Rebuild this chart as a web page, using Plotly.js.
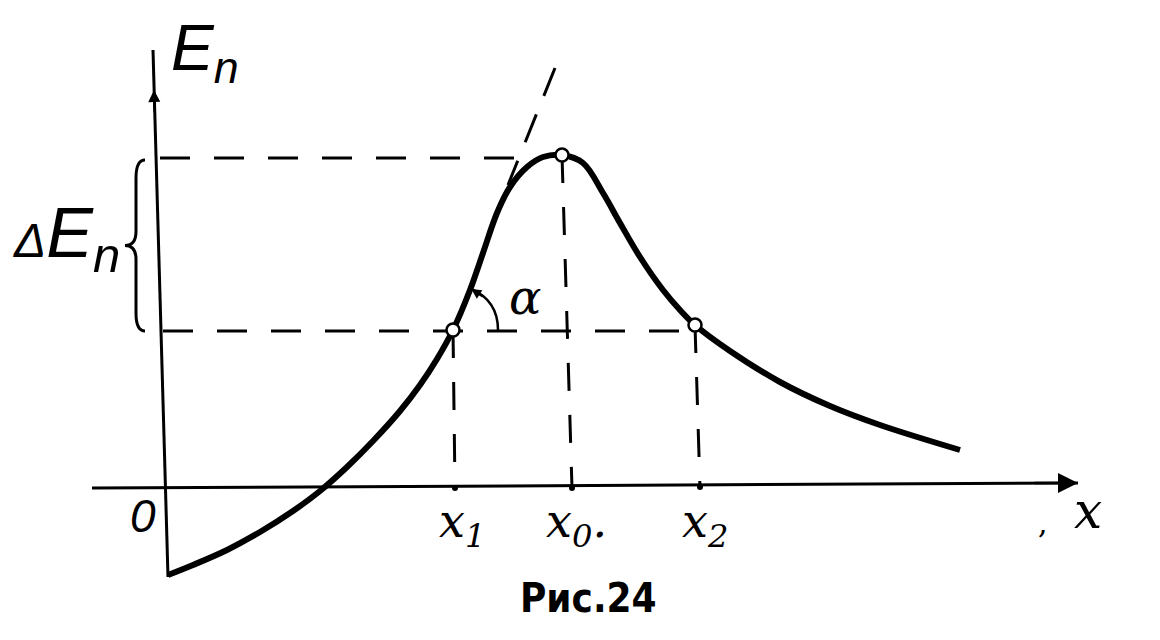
<!DOCTYPE html>
<html>
<head>
<meta charset="utf-8">
<script src="https://cdn.plot.ly/plotly-3.0.1.min.js"></script>
<style>html,body{margin:0;padding:0;background:#fff;}#chart{width:1160px;height:640px;}</style>
</head>
<body>
<div id="chart"></div>
<script>
// Curve E_n(x) (arbitrary units)
const curveX = [0.05, 0.30, 0.64, 0.97, 1.30, 1.57, 1.84, 2.10, 2.37, 2.57, 2.74, 2.90, 3.07, 3.20, 3.34, 3.47, 3.64, 3.80, 3.99, 4.20, 4.40, 4.57, 4.77, 5.00, 5.17, 5.32, 5.67, 6.17, 6.67, 7.17, 7.97];
const curveY = [-0.87, -0.77, -0.62, -0.44, -0.23, -0.03, 0.21, 0.47, 0.77, 1.03, 1.29, 1.58, 1.98, 2.35, 2.75, 3.01, 3.21, 3.31, 3.33, 3.25, 2.95, 2.65, 2.31, 1.98, 1.78, 1.63, 1.37, 1.06, 0.82, 0.63, 0.38];

// Marked points x1, x0, x2
const keyX = [2.90, 3.99, 5.32];
const keyY = [1.58, 3.33, 1.63];
const keyLabels = ['x<sub>1</sub>', 'x<sub>0</sub>.', 'x<sub>2</sub>'];

// Axes (hand drawn, slightly tilted)
const xAxisX = [-0.71, 9.15];
const xAxisY = [0.00, 0.05];
const yAxisX = [-0.10, 0.05];
const yAxisY = [4.38, -0.89];

// Tangent line at x1 (dashed part above the curve)
const tangentX = [3.92, 3.45];
const tangentY = [4.20, 3.03];

const ink = '#000';
const dash = '30px,24px';
const traces = [];

// axes
traces.push({x: xAxisX, y: xAxisY, mode: 'lines', line: {color: ink, width: 3}, hoverinfo: 'skip'});
traces.push({x: yAxisX, y: yAxisY, mode: 'lines', line: {color: ink, width: 3}, hoverinfo: 'skip'});

// dashed guides
const xPeakY = keyY[1];
traces.push({x: [-0.03, 3.52], y: [xPeakY - 0.03, xPeakY - 0.03], mode: 'lines', line: {color: ink, width: 3, dash: dash}, hoverinfo: 'skip'});
traces.push({x: [0.0, keyX[2]], y: [keyY[0] - 0.01, keyY[0] - 0.01], mode: 'lines', line: {color: ink, width: 3, dash: dash}, hoverinfo: 'skip'});
traces.push({x: [keyX[0], keyX[0] + 0.02], y: [keyY[0], 0], mode: 'lines', line: {color: ink, width: 3, dash: '28px,24px'}, hoverinfo: 'skip'});
traces.push({x: [keyX[1], keyX[1] + 0.10], y: [keyY[1], 0], mode: 'lines', line: {color: ink, width: 3, dash: '28px,24px'}, hoverinfo: 'skip'});
traces.push({x: [keyX[2], keyX[2] + 0.05], y: [keyY[2], 0], mode: 'lines', line: {color: ink, width: 3, dash: '28px,24px'}, hoverinfo: 'skip'});
traces.push({x: tangentX, y: tangentY, mode: 'lines', line: {color: ink, width: 3, dash: '30px,20px'}, hoverinfo: 'skip'});

// curve
traces.push({x: curveX, y: curveY, mode: 'lines', line: {color: ink, width: 6, shape: 'spline', smoothing: 1}, hoverinfo: 'skip'});

// tick dots on x axis
traces.push({x: [keyX[0] + 0.02, keyX[1] + 0.10, keyX[2] + 0.05], y: [0, 0, 0.01], mode: 'markers', marker: {color: ink, size: 6}, hoverinfo: 'skip'});

// open circles
traces.push({x: keyX, y: keyY, mode: 'markers', marker: {symbol: 'circle', size: 13, color: '#fff', line: {color: ink, width: 2.5}}, hoverinfo: 'skip'});

// brace for ΔE_n derived from the two levels
const yTop = keyY[1] - 0.05, yBot = keyY[0] - 0.01, yMid = (yTop + yBot) / 2;
const xr = -0.18, xm = -0.27, xt = -0.38;
const bracePath = `M ${xr},${yTop} Q ${xm},${yTop} ${xm},${yTop - 0.18} L ${xm},${yMid + 0.14} Q ${xm},${yMid} ${xt},${yMid} Q ${xm},${yMid} ${xm},${yMid - 0.14} L ${xm},${yBot + 0.18} Q ${xm},${yBot} ${xr},${yBot}`;

// angle arc alpha at x1
const cx = keyX[0], cy = keyY[0], r = 0.45;
const th = 66 * Math.PI / 180;
const cr = r / Math.cos(th / 2);
const arcPath = `M ${cx + r},${cy} Q ${cx + cr * Math.cos(th / 2)},${cy + cr * Math.sin(th / 2)} ${cx + r * Math.cos(th)},${cy + r * Math.sin(th)}`;

const shapes = [
  {type: 'path', xref: 'x', yref: 'y', path: bracePath, line: {color: ink, width: 3}},
  {type: 'path', xref: 'x', yref: 'y', path: arcPath, line: {color: ink, width: 2.5}}
];

const italicSans = 'Liberation Sans, Arial, sans-serif';
const italicSerif = 'DejaVu Serif, Liberation Serif, serif';

const annotations = [
  // axis arrows
  {x: xAxisX[1], y: xAxisY[1], ax: xAxisX[1] - 0.45, ay: xAxisY[1], axref: 'x', ayref: 'y', xref: 'x', yref: 'y', text: '', showarrow: true, arrowhead: 2, arrowsize: 1.6, arrowwidth: 2.5, arrowcolor: ink},
  {x: -0.09, y: 3.98, ax: -0.085, ay: 3.75, axref: 'x', ayref: 'y', xref: 'x', yref: 'y', text: '', showarrow: true, arrowhead: 2, arrowsize: 1.2, arrowwidth: 2, arrowcolor: ink},
  // alpha arrowhead
  {x: cx + r * Math.cos(th), y: cy + r * Math.sin(th), ax: cx + r * Math.cos(th - 0.35), ay: cy + r * Math.sin(th - 0.35), axref: 'x', ayref: 'y', xref: 'x', yref: 'y', text: '', showarrow: true, arrowhead: 2, arrowsize: 1, arrowwidth: 2, arrowcolor: ink},
  // labels
  {x: 0.42, y: 4.36, xref: 'x', yref: 'y', text: '<i>E<sub>n</sub></i>', showarrow: false, font: {family: italicSans, size: 64, color: ink}},
  {x: -0.97, y: 2.50, xref: 'x', yref: 'y', text: '<i><span style="font-size:48px">Δ</span>E<sub>n</sub></i>', showarrow: false, font: {family: italicSans, size: 70, color: ink}},
  {x: -0.20, y: -0.28, xref: 'x', yref: 'y', text: '<i>0</i>', showarrow: false, font: {family: italicSans, size: 46, color: ink}},
  {x: 3.62, y: 1.91, xref: 'x', yref: 'y', text: '<i>α</i>', showarrow: false, font: {family: italicSerif, size: 48, color: ink}},
  {x: 9.25, y: -0.23, xref: 'x', yref: 'y', text: '<i>x</i>', showarrow: false, font: {family: italicSerif, size: 50, color: ink}},
  {x: 8.80, y: -0.34, xref: 'x', yref: 'y', text: ',', showarrow: false, font: {family: italicSerif, size: 30, color: ink}},
  {x: 4.25, y: -1.10, xref: 'x', yref: 'y', text: '<b>Рис.24</b>', showarrow: false, font: {family: 'DejaVu Sans Condensed, DejaVu Sans, sans-serif', size: 40, color: ink}}
];
const labelDx = [0.09, 0.14, 0.10];
keyX.forEach((v, i) => {
  annotations.push({x: v + labelDx[i], y: -0.36, xref: 'x', yref: 'y', text: '<i>' + keyLabels[i] + '</i>', showarrow: false, font: {family: italicSerif, size: 46, color: ink}});
});

const layout = {
  width: 1160, height: 640,
  margin: {l: 0, r: 0, t: 0, b: 0},
  paper_bgcolor: '#fff', plot_bgcolor: '#fff',
  showlegend: false,
  xaxis: {range: [-1.63, 9.97], visible: false, fixedrange: true},
  yaxis: {range: [-1.52, 4.88], visible: false, fixedrange: true},
  shapes: shapes,
  annotations: annotations
};

Plotly.newPlot('chart', traces, layout, {staticPlot: true, displayModeBar: false});
</script>
</body>
</html>
